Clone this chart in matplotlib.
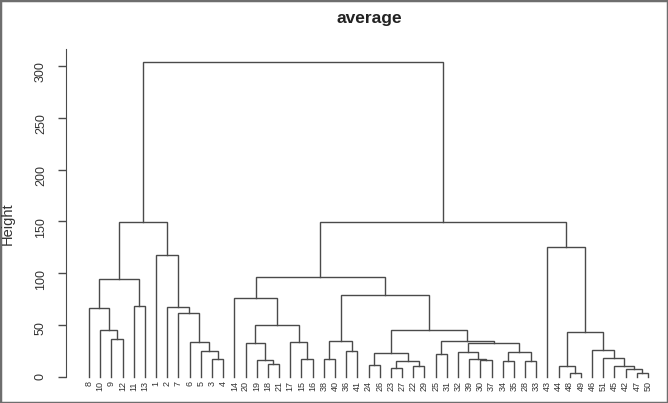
import matplotlib.pyplot as plt
from matplotlib.patches import Rectangle

plt.rcParams['font.family'] = ['Liberation Sans', 'DejaVu Sans']

# leaf order along the x axis
leaf_order = [8, 10, 9, 12, 11, 13, 1, 2, 7, 6, 5, 3, 4,
              14, 20, 19, 18, 21, 17, 15, 16,
              38, 40, 36, 41, 24, 26, 23, 27, 22, 29, 25, 31,
              32, 39, 30, 37, 34, 35, 28, 33,
              43, 44, 48, 49, 46, 51, 45, 42, 47, 50]

# hclust style merges: negative = observation, positive = earlier merge (1-based)
merge_left = [-48, -47, -42, -45, -44, -51, -46, 5, -43,
              -3, -5, -6, -7, -2, -1, -9, -10, -8, -11, 18, 20,
              -18, -19, -20, -15, -17, 24, -14,
              -38, -36, 29, -24, -23, -22, 33, 32,
              -25, -30, -39, -32, -34, -28, 41, 40, 37, 36, 31, 28, 48, 21]
merge_right = [-49, -50, 2, 3, 1, 4, 6, 7, 8,
               -4, 10, 11, 12, 13, 14, -12, 16, 17, -13, 19, 15,
               -21, 22, 23, -16, 25, 26, 27,
               -40, -41, 30, -26, -27, -29, 34, 35,
               -31, -37, 38, 39, -35, -33, 42, 43, 44, 45, 46, 47, 9, 49]
merge_height = [4, 3.5, 7.5, 10.5, 11, 18, 26, 43.5, 125.5,
                17, 25, 34, 62, 68, 118, 36.5, 45, 67, 68.5, 94.5, 149.5,
                13, 16, 33, 17, 34, 50, 76,
                17, 25, 35, 11.5, 8.5, 11, 15.5, 23.5,
                22, 16, 17.5, 24, 15, 15.5, 24, 32.5, 35, 45.5, 79, 96.5, 149.5, 303.5]

yticks = [0, 50, 100, 150, 200, 250, 300]

W, H = 668, 403
fig = plt.figure(figsize=(W / 100, H / 100), dpi=100)
ax = fig.add_axes([66 / W, 23.9 / H, 594 / W, 333.9 / H])

line_col = '#4a4a4a'
node_x = []


def node(n):
    if n < 0:
        return leaf_order.index(-n), 0.0
    return node_x[n - 1], merge_height[n - 1]


for l, r, h in zip(merge_left, merge_right, merge_height):
    xl, hl = node(l)
    xr, hr = node(r)
    ax.plot([xl, xl, xr, xr], [hl, h, h, hr], color=line_col, lw=1.0,
            solid_joinstyle='miter')
    node_x.append((xl + xr) / 2)

for i, lab in enumerate(leaf_order):
    ax.text(i, -4, str(lab), rotation=90, ha='center', va='top',
            fontsize=6.5, color='#333333', clip_on=False)

ax.set_xlim(-2.057, 51.07)
ax.set_ylim(-2, 320)
for s in ['top', 'right', 'bottom']:
    ax.spines[s].set_visible(False)
ax.spines['left'].set_bounds(0, 316)
ax.spines['left'].set_color(line_col)
ax.set_xticks([])
ax.set_yticks(yticks)
ax.tick_params(axis='y', length=5.8, width=1, color=line_col, pad=8,
               labelsize=9, labelcolor='#333333', labelrotation=90)

fig.text(8 / W, 1 - 224 / H, 'Height', rotation=90, ha='center', va='center',
         fontsize=10.5, color='#333333')
fig.text(369 / W, 1 - 19 / H, 'average', ha='center', va='center',
         fontsize=12.5, fontweight='bold', color='#222222')

fig.patches.append(Rectangle((0, 0), 1, 1, transform=fig.transFigure,
                             fill=False, edgecolor='#6e6e6e', lw=2.5))

plt.savefig('out.png', dpi=100)
